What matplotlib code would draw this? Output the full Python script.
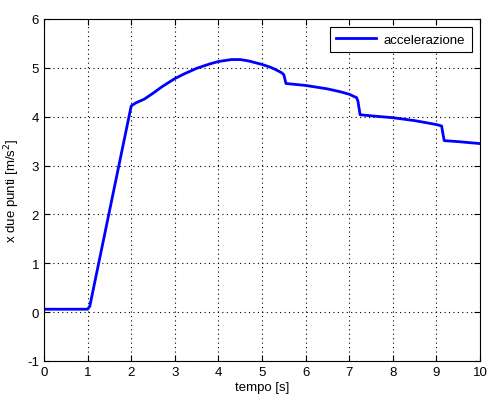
import numpy as np
import matplotlib.pyplot as plt

plt.rcParams['font.family'] = ['Liberation Sans', 'DejaVu Sans']
plt.rcParams['axes.unicode_minus'] = False

tempo = [0.0, 1.0, 1.05, 2.0, 2.1, 2.3, 2.5, 2.7, 3.0, 3.2, 3.5, 3.8, 4.0, 4.3, 4.5, 4.7, 5.0, 5.2, 5.3,
         5.45, 5.5, 5.55, 6.0, 6.5, 6.8, 7.0, 7.17, 7.2, 7.25, 7.6, 8.0, 8.5, 9.0, 9.12, 9.15, 9.18, 9.5, 10.0]
acc = [0.06, 0.06, 0.12, 4.22, 4.28, 4.36, 4.48, 4.61, 4.78, 4.87, 4.99, 5.08, 5.13, 5.17, 5.17, 5.14, 5.07,
       5.01, 4.97, 4.9, 4.86, 4.68, 4.64, 4.57, 4.51, 4.46, 4.39, 4.32, 4.04, 4.01, 3.98, 3.92, 3.84, 3.81,
       3.65, 3.51, 3.49, 3.45]

fig = plt.figure(figsize=(4.97, 4.02), dpi=100)
ax = fig.add_axes([44/497, 40/402, 436/497, 342/402])
ax.plot(tempo, acc, color='#0000ff', lw=2, label='accelerazione')
ax.set_xlim(0, 10)
ax.set_ylim(-1, 6)
ax.set_xticks(range(0, 11))
ax.set_yticks(range(-1, 7))
ax.grid(True, color='black', linestyle=(0, (1, 3)), linewidth=0.8)
ax.tick_params(direction='in', top=True, right=True, labelsize=9.5, length=4)
ax.set_xlabel('tempo [s]', fontsize=9.5, labelpad=2)
ax.set_ylabel('x due punti [m/s$^2$]', fontsize=9.5, labelpad=4)
leg = ax.legend(loc='upper right', fontsize=9.5, fancybox=False, edgecolor='black',
                framealpha=1, handlelength=3.0, handletextpad=0.6, borderaxespad=0.6,
                borderpad=0.5)
leg.get_frame().set_linewidth(0.8)
fig.savefig('out.png', dpi=100)
